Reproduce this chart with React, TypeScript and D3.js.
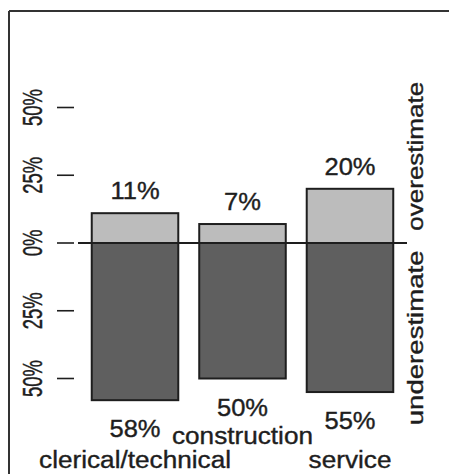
import React from "react";
import * as d3 from "d3";

const categories = ["clerical/technical", "construction", "service"];
const overestimate = [11, 7, 20];
const underestimate = [58, 50, 55];
const tickValues = [50, 25, 0, -25, -50];
const tickLabels = ["50%", "25%", "0%", "25%", "50%"];
const sideLabels = ["overestimate", "underestimate"];

const W = 449;
const H = 474;
const FONT = "'Liberation Sans', Arial, Helvetica, sans-serif";

export default function App() {
  const x = d3
    .scaleBand<string>()
    .domain(categories)
    .range([81, 404])
    .paddingInner(0.195)
    .paddingOuter(0.1);
  const y = d3.scaleLinear().domain([-50, 50]).range([378.5, 107.5]);
  const bw = x.bandwidth();
  const ink = "#1e1e1e";
  const textStyle = { stroke: ink, strokeWidth: 0.35 } as React.CSSProperties;

  return (
    <svg
      width={W}
      height={H}
      style={{ position: "absolute", left: 0, top: 0, background: "#fff" }}
      fontFamily={FONT}
    >
      <rect x={0} y={0} width={W} height={H} fill="#fff" />
      {/* frame */}
      <line x1={9} y1={11} x2={W} y2={11} stroke="#333" strokeWidth={2} />
      <line x1={9} y1={11} x2={9} y2={H} stroke="#333" strokeWidth={2} />

      {/* y ticks */}
      {tickValues.map((v, i) => (
        <g key={"t" + i}>
          <line x1={57} x2={74} y1={y(v)} y2={y(v)} stroke={ink} strokeWidth={1.6} />
          <text
            transform={`translate(42,${y(v)}) rotate(-90) scale(0.84,1.22)`}
            textAnchor="middle"
            fontSize={22}
            fill={ink}
            style={textStyle}
          >
            {tickLabels[i]}
          </text>
        </g>
      ))}

      {/* bars */}
      {categories.map((c, i) => {
        const x0 = x(c)!;
        const cx = x0 + bw / 2;
        const yTop = y(overestimate[i]);
        const yBot = y(-underestimate[i]);
        const catBase = i % 2 === 1 ? 444 : 468;
        return (
          <g key={c}>
            <rect
              x={x0}
              y={yTop}
              width={bw}
              height={y(0) - yTop}
              fill="#bcbcbc"
              stroke={ink}
              strokeWidth={2}
            />
            <rect
              x={x0}
              y={y(0)}
              width={bw}
              height={yBot - y(0)}
              fill="#5f5f5f"
              stroke={ink}
              strokeWidth={2}
            />
            <text
              transform={`translate(${cx},${yTop - 14}) scale(1.16,1.08)`}
              textAnchor="middle"
              fontSize={22}
              fill={ink}
              style={textStyle}
            >
              {overestimate[i] + "%"}
            </text>
            <text
              transform={`translate(${cx},${yBot + 37}) scale(1.16,1.08)`}
              textAnchor="middle"
              fontSize={22}
              fill={ink}
              style={textStyle}
            >
              {underestimate[i] + "%"}
            </text>
            <text
              transform={`translate(${cx},${catBase}) scale(1.19,1.08)`}
              textAnchor="middle"
              fontSize={22}
              fill={ink}
              style={textStyle}
            >
              {c}
            </text>
          </g>
        );
      })}

      {/* zero line */}
      <line x1={78} x2={407} y1={y(0)} y2={y(0)} stroke={ink} strokeWidth={2} />

      {/* side labels */}
      <text
        transform={`translate(423,${y(32)}) rotate(-90) scale(1.3,1.06)`}
        textAnchor="middle"
        fontSize={20}
        fill={ink}
        style={textStyle}
      >
        {sideLabels[0]}
      </text>
      <text
        transform={`translate(423,${y(-35)}) rotate(-90) scale(1.38,1.06)`}
        textAnchor="middle"
        fontSize={20}
        fill={ink}
        style={textStyle}
      >
        {sideLabels[1]}
      </text>
    </svg>
  );
}
